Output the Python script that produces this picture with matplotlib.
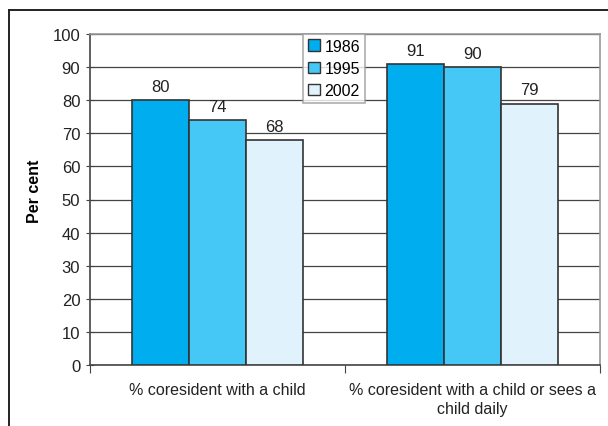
import numpy as np
import matplotlib.pyplot as plt
from matplotlib.lines import Line2D
from matplotlib.patches import Patch

plt.rcParams['font.family'] = ['Liberation Sans', 'DejaVu Sans']

# ---- data ----
categories = ["% coresident with a child", "% coresident with a child or sees a\nchild daily"]
years = ["1986", "1995", "2002"]
values_1986 = [80, 91]
values_1995 = [74, 90]
values_2002 = [68, 79]
colors = ["#00AEEF", "#45C8F5", "#E0F2FC"]

fig = plt.figure(figsize=(6.08, 4.27), dpi=100)
ax = fig.add_axes([90 / 608, 61 / 427, 510 / 608, 331 / 427])

x = np.arange(len(categories))
width = 0.224
series = [values_1986, values_1995, values_2002]
for i, (vals, col, yr) in enumerate(zip(series, colors, years)):
    pos = x + (i - 1) * width
    ax.bar(pos, vals, width, color=col, edgecolor="#333333", linewidth=1.2,
           label=yr, zorder=3)
    for px, v in zip(pos, vals):
        ax.text(px, v + 2.8, str(v), ha="center", va="baseline", fontsize=12,
                color="#222222", zorder=4)

ax.set_xlim(-0.5, 1.5)
ax.set_ylim(0, 100)
ax.set_yticks(np.arange(0, 101, 10))
ax.yaxis.grid(True, color="#444444", linewidth=0.9, zorder=0)
ax.set_axisbelow(True)

ax.set_xticks([-0.5, 0.5, 1.5])
ax.set_xticklabels([])
ax.set_xticks(x, minor=True)
ax.set_xticklabels(categories, minor=True, fontsize=11.5, color="#222222",
                   linespacing=1.35)
ax.tick_params(axis="x", which="minor", length=0, pad=12)
ax.tick_params(axis="x", which="major", length=6, direction="out", color="#444444")
ax.tick_params(axis="y", length=6, direction="inout", color="#444444",
               labelsize=12, labelcolor="#222222", pad=4)

ax.spines["left"].set_color("#444444")
ax.spines["bottom"].set_color("#444444")
ax.spines["top"].set_color("#999999")
ax.spines["right"].set_color("#999999")
for s in ax.spines.values():
    s.set_linewidth(1.2)

ax.set_ylabel("Per cent", fontsize=11.5, fontweight="bold")
ax.yaxis.set_label_coords(-0.094, 0.527)

handles = [Patch(facecolor=c, edgecolor="#333333", linewidth=1) for c in colors]
leg = ax.legend(handles, years, loc="upper left",
                bbox_to_anchor=(303 / 608, 1 - 35 / 427), bbox_transform=fig.transFigure,
                fontsize=11.5, frameon=True, fancybox=False, edgecolor="#999999",
                handlelength=0.75, handleheight=0.75, handletextpad=0.3,
                borderpad=0.3, labelspacing=0.45, borderaxespad=0)
leg.get_frame().set_linewidth(1.2)
leg.set_zorder(5)

# outer frame (top and left edges only visible)
fig.add_artist(Line2D([9 / 608, 9 / 608], [-0.1, 1 - 11 / 427], transform=fig.transFigure,
                      color="#222222", linewidth=1.4))
fig.add_artist(Line2D([9 / 608, 1.1], [1 - 11 / 427, 1 - 11 / 427], transform=fig.transFigure,
                      color="#222222", linewidth=1.4))

fig.savefig("out.png", dpi=100, facecolor="white")
